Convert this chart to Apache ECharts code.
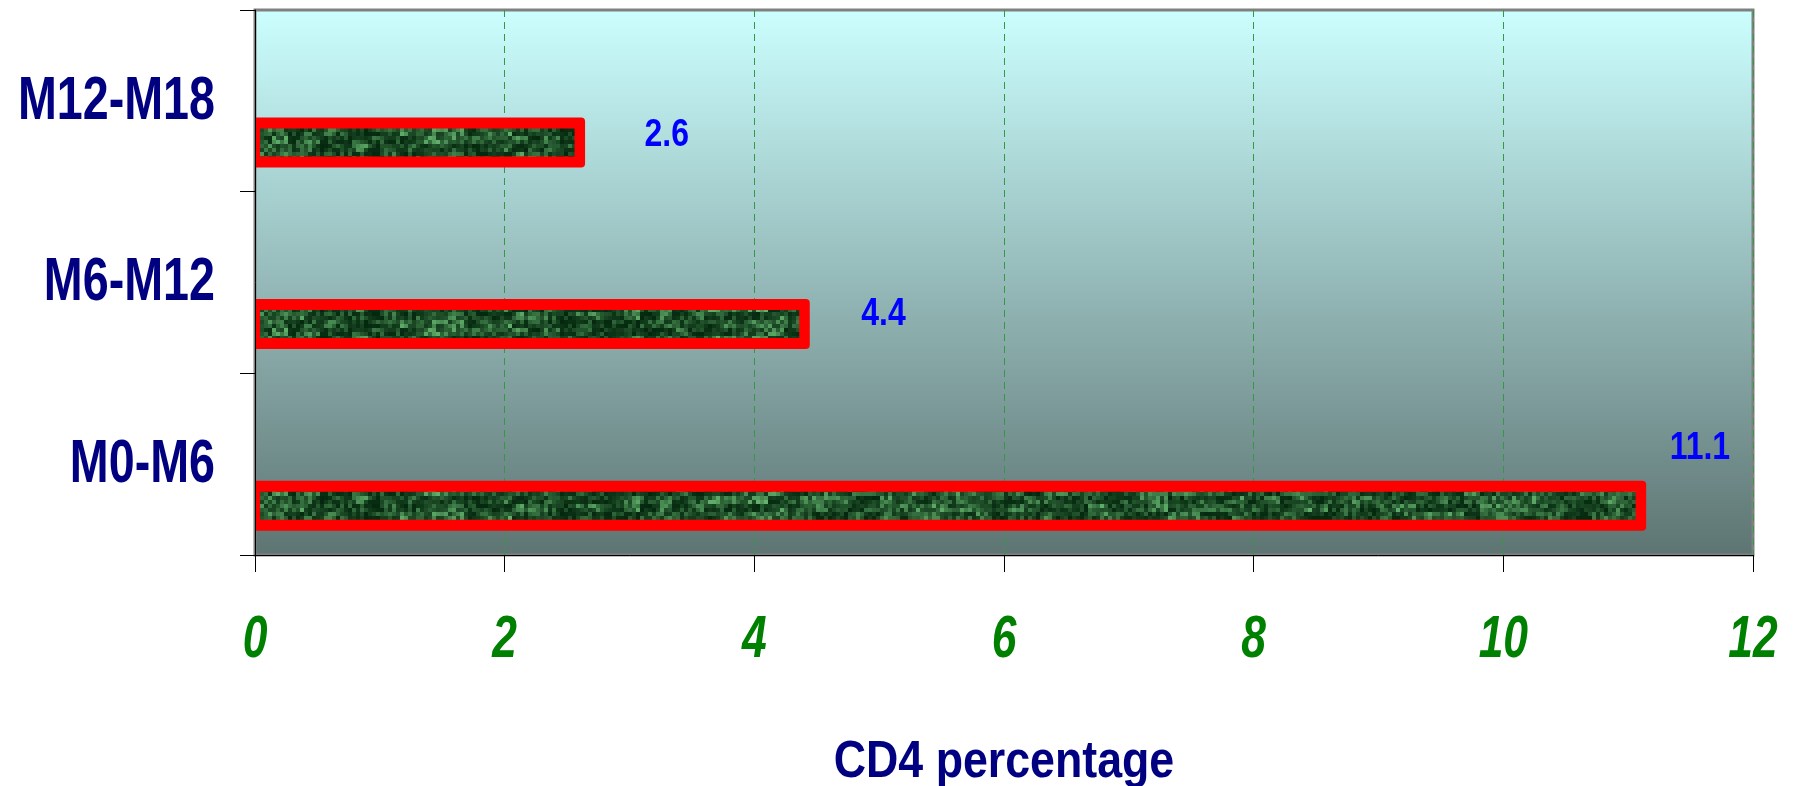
<!DOCTYPE html>
<html>
<head>
<meta charset="utf-8">
<title>CD4 percentage</title>
<script src="https://cdn.jsdelivr.net/npm/echarts@6/dist/echarts.min.js"></script>
<style>
  html, body { margin: 0; padding: 0; background: #ffffff; }
  #chart { width: 1801px; height: 786px; }
</style>
</head>
<body>
<div id="chart"></div>
<script>
// Period categories (bottom to top) and the CD4 percentage gained in each
const periods = ['M0-M6', 'M6-M12', 'M12-M18'];
const cd4Values = [11.1, 4.4, 2.6];
const xTicks = [0, 2, 4, 6, 8, 10, 12];
const axisTitle = 'CD4 percentage';

// Nudges for the value labels (pixels from the bar end), same order as periods
const labelNudges = [[29, -58], [57, -10], [65, -7]];

const FONT = '"Liberation Sans", Arial, sans-serif';
// the lettering of this chart is set narrow: squeeze it horizontally
const SQUEEZE = 0.78;

// Bars sit in the lower part of each category band
const BAR_SHIFT = 0.229;   // fraction of the band height
const BAR_OUTER = 50;      // red frame height
const BAR_INNER = 28;      // textured core height

// Dark green mottled texture for the bar core (deterministic hash noise)
function makeTexture() {
  const w = 1400, h = 32, cell = 4;
  const c = document.createElement('canvas');
  c.width = w; c.height = h;
  const ctx = c.getContext('2d');
  function hash(i, j) {
    let n = (i * 374761393 + j * 668265263) | 0;
    n = Math.imul(n ^ (n >>> 13), 1274126177);
    n = n ^ (n >>> 16);
    return ((n >>> 0) % 1000) / 1000;
  }
  for (let y = 0; y < h; y += cell) {
    for (let x = 0; x < w; x += cell) {
      const a = hash(x / cell, y / cell);
      const b = hash(Math.floor(x / (cell * 4)), Math.floor(y / (cell * 2)) + 77);
      let t = 0.55 * a + 0.45 * b;
      t = t * t * 1.1;
      const r = Math.round(4 + t * 90);
      const g = Math.round(40 + t * 130);
      const bl = Math.round(14 + t * 90);
      ctx.fillStyle = 'rgb(' + r + ',' + g + ',' + bl + ')';
      ctx.fillRect(x, y, cell, cell);
    }
  }
  return c;
}
const texture = makeTexture();

function squeezedText(x, y, text, opts) {
  return {
    type: 'text',
    x: x, y: y,
    scaleX: opts.squeeze || SQUEEZE,
    silent: true,
    style: {
      text: text,
      fill: opts.color,
      fontFamily: FONT,
      fontWeight: 'bold',
      fontStyle: opts.italic ? 'italic' : 'normal',
      fontSize: opts.size,
      align: opts.align,
      verticalAlign: 'middle'
    }
  };
}

const chart = echarts.init(document.getElementById('chart'), null, { renderer: 'canvas' });

chart.setOption({
  animation: false,
  grid: {
    left: 255, right: 48, top: 10, bottom: 231,
    show: true,
    borderColor: '#808080',
    borderWidth: 3,
    backgroundColor: {
      type: 'linear', x: 0, y: 0, x2: 0, y2: 1,
      colorStops: [
        { offset: 0, color: '#ccffff' },
        { offset: 1, color: '#5d7472' }
      ]
    }
  },
  xAxis: {
    type: 'value',
    min: xTicks[0],
    max: xTicks[xTicks.length - 1],
    interval: xTicks[1] - xTicks[0],
    axisLine: { show: true, lineStyle: { color: '#000000', width: 1 } },
    axisTick: { show: true, length: 17, lineStyle: { color: '#000000', width: 1 } },
    axisLabel: { show: false },
    splitLine: {
      show: true,
      lineStyle: { color: '#339944', width: 1, type: [7, 5] }
    }
  },
  yAxis: {
    type: 'category',
    data: periods,
    z: 3,
    axisLine: { show: true, lineStyle: { color: '#000000', width: 1 } },
    axisTick: { show: true, length: 15, lineStyle: { color: '#000000', width: 1 } },
    axisLabel: { show: false },
    splitLine: { show: false }
  },
  series: [
    {
      // the bars: red frame with a textured green core, plus the value
      type: 'custom',
      clip: false,
      silent: true,
      data: cd4Values.map((v, i) => [v, i]),
      renderItem: function (params, api) {
        const value = api.value(0);
        const cat = api.value(1);
        const start = api.coord([0, cat]);
        const end = api.coord([value, cat]);
        const band = api.size([0, 1])[1];
        const yc = start[1] + band * BAR_SHIFT;
        const nudge = labelNudges[params.dataIndex];
        return {
          type: 'group',
          children: [
            {
              type: 'rect',
              shape: {
                x: start[0], y: yc - BAR_OUTER / 2,
                width: end[0] - start[0] + 5.5, height: BAR_OUTER,
                r: [0, 4, 4, 0]
              },
              style: { fill: '#ff0000' }
            },
            {
              type: 'rect',
              shape: {
                x: start[0] + 5, y: yc - BAR_INNER / 2,
                width: end[0] - start[0] - 10, height: BAR_INNER
              },
              style: { fill: { image: texture, repeat: 'repeat' } }
            },
            squeezedText(end[0] + nudge[0], yc + nudge[1], value.toFixed(1),
              { size: 39, color: '#0000ff', align: 'left', squeeze: 0.82 })
          ]
        };
      }
    },
    {
      // category names left of the axis
      type: 'custom',
      clip: false,
      silent: true,
      data: periods.map((p, i) => [xTicks[0], i]),
      renderItem: function (params, api) {
        const p = api.coord([api.value(0), api.value(1)]);
        return squeezedText(p[0] - 40, p[1] + 1, periods[params.dataIndex],
          { size: 61, color: '#000080', align: 'right', squeeze: 0.765 });
      }
    },
    {
      // tick labels under the value axis
      type: 'custom',
      clip: false,
      silent: true,
      data: xTicks.map(t => [t, 0]),
      renderItem: function (params, api) {
        const p = api.coord([api.value(0), 0]);
        const cs = params.coordSys;
        const t = xTicks[params.dataIndex];
        return squeezedText(p[0], cs.y + cs.height + 85, String(t),
          { size: 60, color: '#008000', align: 'center', italic: true, squeeze: 0.74 });
      }
    }
  ]
});

// axis title centred under the plot
const mid = (xTicks[0] + xTicks[xTicks.length - 1]) / 2;
const cx = chart.convertToPixel({ xAxisIndex: 0 }, mid);
const gridRect = chart.getModel().getComponent('grid').coordinateSystem.getRect();
chart.setOption({
  graphic: [
    squeezedText(cx, gridRect.y + gridRect.height + 208, axisTitle,
      { size: 52, color: '#000080', align: 'center', squeeze: 0.86 })
  ]
});
</script>
</body>
</html>
